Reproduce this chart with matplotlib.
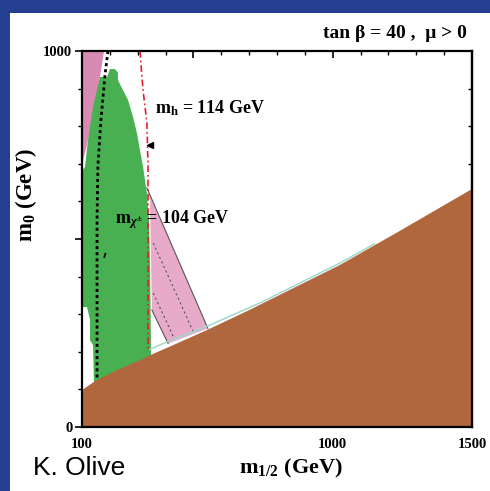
import matplotlib
matplotlib.use("Agg")
import matplotlib.pyplot as plt
from matplotlib.patches import Rectangle, Polygon
from matplotlib.ticker import MultipleLocator

plt.rcParams['mathtext.fontset'] = 'custom'
plt.rcParams['mathtext.rm'] = 'Liberation Serif:bold'
plt.rcParams['mathtext.it'] = 'Liberation Serif:italic:bold'
plt.rcParams['mathtext.bf'] = 'Liberation Serif:bold'

# ---- data (m_1/2, m_0 in GeV) ----
brown_x = [100, 147, 218, 315, 351, 434, 552, 703, 1026, 1242, 1500]
brown_y = [98, 122, 149, 180, 193, 220, 259, 312, 431, 522, 633]

teal_x = [344, 420, 549, 739, 1026, 1150]
teal_y = [207, 231, 268, 330, 436, 487]

green_x = [164.6, 190, 200.5, 218.5, 229, 229, 247, 265, 283, 297, 308, 319, 326,
           333, 340.5, 344, 348, 348, 147, 139.5, 128.7, 128.7, 118, 103.6, 103.6,
           110.8, 121.5, 139.5]
green_y = [931, 931, 952, 952, 942, 923, 896, 870, 825, 782, 737, 692, 657,
           622, 551, 444, 200, 0, 0, 218, 231, 285, 319, 319, 684,
           692, 763, 851]

pink_x = [100, 179, 164.6, 121.5, 100]
pink_y = [1000, 1000, 931, 763, 695]

band_x = [333, 552, 409, 351, 344]
band_y = [636, 262, 222, 311, 604]

band_dash1_x = [356, 499]
band_dash1_y = [489, 254]
band_dash2_x = [356, 428]
band_dash2_y = [356, 240]

chargino_x = [193, 182.6, 168, 157, 154, 154]
chargino_y = [1000, 936, 817, 692, 551, 125]

higgs_x = [308, 319, 333, 337, 337]
higgs_y = [1000, 896, 809, 692, 200]

xticks = [100, 500, 1000, 1500]
xticklabels = ['100', '', '1000', '1500']
yticks = [0, 500, 1000]
yticklabels = ['0', '', '1000']

# ---- figure ----
fig = plt.figure(figsize=(4.9, 4.91), dpi=100)
fig.patch.set_facecolor('#243F8F')
fig.add_artist(Rectangle((10/490, 0), 480/490, 478/491, transform=fig.transFigure,
                         facecolor='white', edgecolor='none', zorder=-1))

ax = fig.add_axes([82/490, 1-427/491, 390/490, 376/491])
ax.set_xlim(100, 1500)
ax.set_ylim(0, 1000)

ax.add_patch(Polygon(list(zip(pink_x, pink_y)), closed=True, facecolor='#D98AB3',
                     edgecolor='none', zorder=1))
ax.add_patch(Polygon(list(zip(green_x, green_y)), closed=True, facecolor='#48B050',
                     edgecolor='none', zorder=2))
ax.add_patch(Polygon(list(zip(band_x, band_y)), closed=True, facecolor='#E8AACA',
                     edgecolor='none', zorder=2))
# band borders
ax.plot([band_x[0], band_x[1]], [band_y[0], band_y[1]], color='#555555', lw=0.8, zorder=3)
ax.plot([band_x[2], band_x[3]], [band_y[2], band_y[3]], color='#555555', lw=0.8, zorder=3)
ax.plot(band_dash1_x, band_dash1_y, color='#555555', lw=0.8, ls=(0, (2, 2.5)), zorder=3)
ax.plot(band_dash2_x, band_dash2_y, color='#555555', lw=0.8, ls=(0, (2, 2.5)), zorder=3)

ax.plot(teal_x, teal_y, color='#9FD8C8', lw=1.1, zorder=3)
ax.fill_between(brown_x, brown_y, 0, facecolor='#B0673E', edgecolor='none', zorder=4)

ax.plot(chargino_x, chargino_y, color='black', lw=2.0, ls=(0, (1.1, 1.1)), zorder=5)
ax.plot(higgs_x, higgs_y, color='#E8202A', lw=1.2, ls=(0, (4, 1.8, 1, 1.8)), zorder=5)

ax.plot([344], [750], marker='<', color='black', ms=4, zorder=6)
ax.plot([180, 184], [452, 461], color='black', lw=1.2, zorder=6)

ax.text(362, 849, r'$\mathrm{m}_{\mathrm{h}}$ = 114 GeV', fontsize=13,
        family='Liberation Serif', weight='bold', va='center', ha='left', zorder=7)
ax.text(218, 551, r'$\mathrm{m}_{\chi^{\pm}}$ = 104 GeV', fontsize=13,
        family='Liberation Serif', weight='bold', va='center', ha='left', zorder=7)

# ---- axes styling ----
for s in ax.spines.values():
    s.set_linewidth(1.6)
    s.set_zorder(8)
ax.set_xticks(xticks)
ax.set_xticklabels(xticklabels)
ax.set_yticks(yticks)
ax.set_yticklabels(yticklabels)
ax.xaxis.set_minor_locator(MultipleLocator(100))
ax.yaxis.set_minor_locator(MultipleLocator(100))
ax.tick_params(axis='x', which='both', direction='in', top=True, bottom=True)
ax.tick_params(axis='y', which='both', direction='out', left=True, right=False)
ax.tick_params(which='major', length=5, width=1.2)
ax.tick_params(which='minor', length=3, width=1.0)
ax.tick_params(axis='x', pad=8)
ax.tick_params(axis='y', pad=2)
for lab in ax.get_xticklabels() + ax.get_yticklabels():
    lab.set_family('Liberation Serif')
    lab.set_weight('bold')
    lab.set_fontsize(10.5)

sec = ax.secondary_yaxis('right')
sec.set_yticks(yticks)
sec.set_yticklabels([])
sec.yaxis.set_minor_locator(MultipleLocator(100))
sec.tick_params(which='both', direction='in')
sec.tick_params(which='major', length=5, width=1.2)
sec.tick_params(which='minor', length=3, width=1.0)
sec.spines['right'].set_linewidth(1.6)

ax.set_xlabel(r'm$_{1/2}$ (GeV)', family='Liberation Serif', weight='bold', fontsize=16)
ax.xaxis.set_label_coords(0.536, -0.08)
ax.set_ylabel(r'm$_0$ (GeV)', family='Liberation Serif', weight='bold', fontsize=16.5)
ax.yaxis.set_label_coords(-0.11, 0.617)

fig.text(467/490, 1-33/491, 'tan β = 40 ,  μ > 0', family='Liberation Serif',
         weight='bold', fontsize=14, ha='right', va='center')
fig.text(33/490, 1-468/491, 'K. Olive', family='Liberation Sans', fontsize=19,
         ha='left', va='center')

fig.savefig('out.png', dpi=100, facecolor=fig.get_facecolor())
